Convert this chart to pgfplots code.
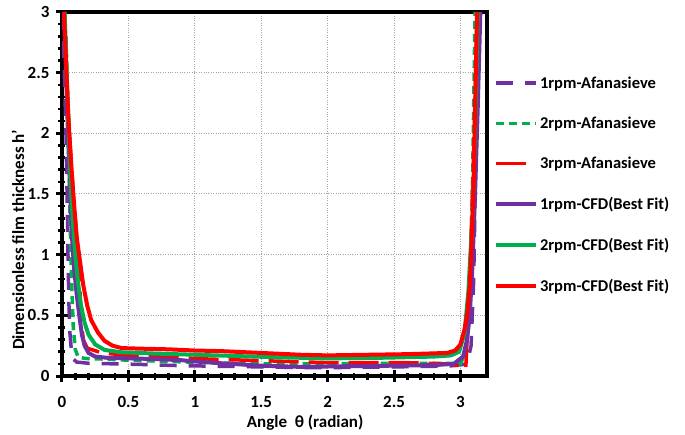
\documentclass[border=0pt]{standalone}
\usepackage{pgfplots}
\pgfplotsset{compat=1.18}
\usepackage{fontspec}
\setmainfont{Carlito}
\definecolor{cpur}{HTML}{7030A0}
\definecolor{cgrn}{HTML}{00B050}
\definecolor{cred}{HTML}{FF0000}
\begin{document}
\begin{tikzpicture}
\useasboundingbox (-62pt,-58pt) rectangle (623pt,376pt);
\begin{axis}[
  scale only axis, width=425pt, height=364pt,
  xmin=0, xmax=3.2, ymin=0, ymax=3,
  xtick={0,0.5,1,1.5,2,2.5,3}, ytick={0,0.5,1,1.5,2,2.5,3},
  minor x tick num=4, minor y tick num=4,
  xtick pos=bottom, ytick pos=left,
  tick align=center,
  major tick length=12pt, minor tick length=7pt,
  tick style={black, line width=3pt},
  minor tick style={black, line width=2.5pt},
  axis line style={black, line width=4pt},
  grid=major,
  major grid style={gray!70, dotted, line width=1pt},
  /pgf/number format/assume math mode=true,
  ticklabel style={font=\fontsize{17}{20}\selectfont\bfseries},
  xticklabel style={yshift=-11pt},
  yticklabel style={xshift=-3pt},
  label style={font=\fontsize{17}{20}\selectfont\bfseries},
  xlabel={Angle~~θ (radian)},
  ylabel={Dimensionless film thickness h'},
  xlabel style={at={(axis description cs:0.572,-0.129)}, anchor=center},
  ylabel style={at={(axis description cs:-0.1035,0.374)}, anchor=center},
  legend image code/.code={\draw[#1] (0pt,0pt) -- (40pt,0pt);},
  legend cell align=left,
  legend style={at={(1.016,0.829)}, anchor=north west, draw=none, fill=none,
    inner sep=0pt, row sep=23.2pt,
    font=\fontsize{16.5}{19}\selectfont\bfseries,
    /tikz/every even column/.append style={column sep=0pt}},
  clip=true,
]
% 1rpm-Afanasieve
\addplot[cpur, line width=3.5pt, dash pattern=on 17pt off 12pt] coordinates {
(0.005,3.0)(0.02,2.4)(0.03,2.0)(0.04,1.4)(0.045,1.0)(0.052,0.6)(0.06,0.35)(0.07,0.22)(0.085,0.14)(0.11,0.115)(0.2,0.105)(0.4,0.1)(0.6,0.095)(0.9,0.085)(1.2,0.08)(1.5,0.075)(1.8,0.07)(2.1,0.07)(2.5,0.075)(2.8,0.08)(2.95,0.085)(3.05,0.1)(3.08,0.25)(3.1,0.8)(3.115,1.8)(3.125,3.0)};
\addlegendentry{1rpm-Afanasieve}
% 2rpm-Afanasieve
\addplot[cgrn, line width=3.5pt, dash pattern=on 8pt off 5pt] coordinates {
(0.03,2.8)(0.045,2.2)(0.055,1.6)(0.065,1.1)(0.075,0.7)(0.085,0.4)(0.1,0.22)(0.12,0.16)(0.17,0.145)(0.3,0.14)(0.5,0.13)(0.8,0.12)(1.1,0.11)(1.5,0.1)(2.0,0.1)(2.5,0.105)(2.9,0.105)(3.0,0.1)(3.04,0.2)(3.07,0.7)(3.09,1.5)(3.11,3.0)};
\addlegendentry{2rpm-Afanasieve}
% 3rpm-Afanasieve
\addplot[cred, line width=3.5pt, dash pattern=on 30pt off 10pt] coordinates {
(0.015,3.0)(0.045,2.2)(0.085,1.5)(0.115,1.1)(0.13,0.8)(0.14,0.6)(0.148,0.42)(0.16,0.3)(0.19,0.23)(0.3,0.19)(0.5,0.17)(0.8,0.155)(1.1,0.14)(1.4,0.13)(1.7,0.12)(2.0,0.11)(2.3,0.11)(2.6,0.11)(2.9,0.1)(3.0,0.085)(3.04,0.06)(3.05,0.3)(3.07,0.75)(3.09,1.5)(3.11,2.3)(3.125,3.0)};
\addlegendentry{3rpm-Afanasieve}
% 1rpm-CFD
\addplot[cpur, line width=4pt] coordinates {
(0.015,3.0)(0.03,2.5)(0.045,2.0)(0.06,1.55)(0.075,1.15)(0.09,0.9)(0.11,0.68)(0.13,0.5)(0.15,0.34)(0.17,0.25)(0.2,0.19)(0.25,0.16)(0.34,0.15)(0.5,0.145)(0.7,0.14)(0.9,0.13)(1.0,0.12)(1.2,0.105)(1.5,0.085)(1.8,0.075)(2.1,0.08)(2.5,0.085)(2.8,0.09)(2.95,0.1)(3.02,0.16)(3.05,0.3)(3.07,0.5)(3.09,0.9)(3.11,1.5)(3.13,2.2)(3.15,3.0)};
\addlegendentry{1rpm-CFD(Best Fit)}
% 2rpm-CFD
\addplot[cgrn, line width=4pt] coordinates {
(0.02,3.0)(0.035,2.5)(0.05,2.05)(0.065,1.6)(0.08,1.3)(0.1,1.0)(0.12,0.78)(0.14,0.6)(0.17,0.44)(0.2,0.34)(0.25,0.26)(0.32,0.215)(0.45,0.195)(0.7,0.185)(1.0,0.175)(1.3,0.165)(1.6,0.155)(2.0,0.145)(2.4,0.15)(2.8,0.16)(2.93,0.17)(2.99,0.2)(3.03,0.35)(3.06,0.7)(3.09,1.3)(3.11,2.0)(3.13,3.0)};
\addlegendentry{2rpm-CFD(Best Fit)}
% 3rpm-CFD
\addplot[cred, line width=4pt] coordinates {
(0.015,3.0)(0.03,2.6)(0.045,2.2)(0.06,1.9)(0.085,1.5)(0.11,1.15)(0.135,0.95)(0.16,0.75)(0.19,0.58)(0.22,0.46)(0.27,0.36)(0.32,0.29)(0.38,0.25)(0.45,0.23)(0.6,0.225)(0.8,0.22)(1.0,0.21)(1.2,0.205)(1.5,0.19)(1.8,0.175)(2.0,0.17)(2.3,0.175)(2.6,0.18)(2.9,0.19)(2.96,0.21)(3.0,0.26)(3.03,0.38)(3.05,0.5)(3.07,0.75)(3.08,1.0)(3.1,1.6)(3.11,2.2)(3.125,3.0)};
\addlegendentry{3rpm-CFD(Best Fit)}
\end{axis}
\end{tikzpicture}
\end{document}
